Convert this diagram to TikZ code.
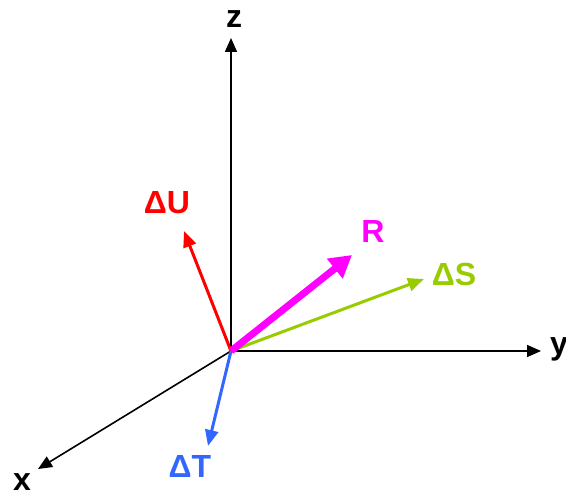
\documentclass[tikz,border=0pt]{standalone}
\usepackage{fontspec}
\setmainfont{Liberation Sans}
\usepackage{xcolor}
\usetikzlibrary{arrows.meta}
\definecolor{duRed}{HTML}{FF0000}
\definecolor{rMag}{HTML}{FF00FF}
\definecolor{dsGreen}{HTML}{99CC00}
\definecolor{dtBlue}{HTML}{3366FF}
\begin{document}
\begin{tikzpicture}[x=1pt, y=-1pt,
    axis/.style={-{Triangle[length=14pt, width=12pt]}, line width=1.6pt, black},
    vec/.style={-{Triangle[length=16pt, width=13pt]}, line width=3pt},
    lbl/.style={font=\bfseries\fontsize{32}{34}\selectfont, inner sep=0pt}]
    \useasboundingbox (0,0) rectangle (566,495);
    % Origin and axis tips
    \coordinate (O) at (231,351);
    \coordinate (zTip) at (231,38);
    \coordinate (yTip) at (541,351);
    \coordinate (xTip) at (38,469);
    % Axes
    \draw[axis] (O) -- (zTip);
    \draw[axis] (O) -- (yTip);
    \draw[axis] (O) -- (xTip);
    \node[lbl] (zLbl) at (234,19) {z};
    \node[lbl] (yLbl) at (559,349) {y};
    \node[lbl] (xLbl) at (22,482) {x};
    % Vector tips
    \coordinate (dUTip) at (184,231);
    \coordinate (RTip) at (352,255);
    \coordinate (dSTip) at (424,279);
    \coordinate (dTTip) at (208,446);
    % Vectors
    \draw[vec, duRed] (O) -- (dUTip);
    \draw[vec, dsGreen] (O) -- (dSTip);
    \draw[vec, dtBlue] (O) -- (dTTip);
    \draw[-{Triangle[length=22pt, width=24pt]}, line width=7pt, rMag] (O) -- (RTip);
    % Labels
    \node[lbl, duRed] (dULbl) at (167,203) {ΔU};
    \node[lbl, rMag] (RLbl) at (373,231) {R};
    \node[lbl, dsGreen] (dSLbl) at (454,274) {ΔS};
    \node[lbl, dtBlue] (dTLbl) at (190,466) {ΔT};
\end{tikzpicture}
\end{document}
